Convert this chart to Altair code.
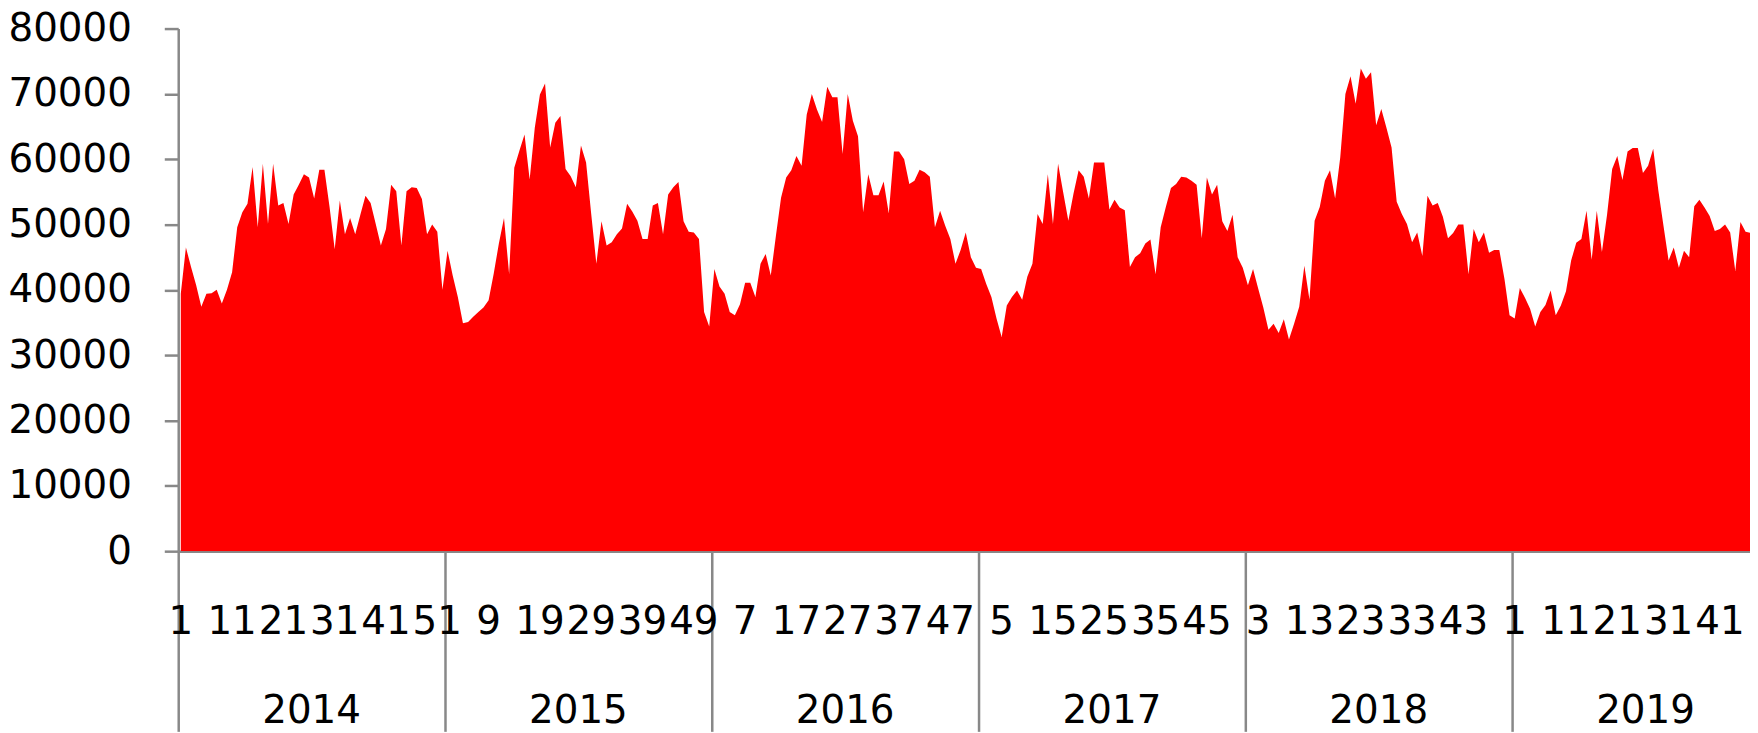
import altair as alt
import pandas as pd

years = [2014, 2015, 2016, 2017, 2018, 2019]

v2014 = [39400, 46500, 43500, 40700, 37400, 39400, 39500, 40000, 37900, 40000,
         42700, 49600, 51900, 53200, 58800, 49600, 59300, 50100, 59300, 52900,
         53300, 50100, 54600, 56100, 57700, 57200, 54000, 58400, 58400, 52700,
         46200, 53700, 48500, 51000, 48500, 51500, 54400, 53300, 50100, 46800,
         49300, 56100, 55100, 46800, 55100, 55700, 55600, 53900, 48500, 50000,
         48900, 40000]
v2015 = [46000, 42200, 38900, 34900, 35100, 35900, 36600, 37300, 38400, 42500,
         47100, 51000, 42400, 58700, 61300, 63800, 56900, 64800, 69900, 71600,
         61800, 65600, 66600, 58500, 57400, 55700, 62100, 59500, 51600, 44000,
         50500, 46800, 47300, 48500, 49400, 53200, 52000, 50600, 47800, 47800,
         52900, 53300, 48500, 54600, 55700, 56500, 50500, 48900, 48800, 47800,
         36600, 34400]
v2016 = [43200, 40500, 39400, 36600, 36100, 37800, 41100, 41100, 38900, 44000,
         45500, 42200, 48300, 54100, 57200, 58300, 60500, 59000, 66800, 70000,
         67600, 65700, 71100, 69500, 69500, 60800, 70000, 65900, 63500, 51900,
         57700, 54500, 54500, 56600, 51700, 61200, 61200, 60000, 56200, 56700,
         58400, 58000, 57300, 49600, 52100, 49800, 47800, 44000, 46100, 48800,
         45000, 43400]
v2017 = [43200, 40900, 38900, 35600, 32800, 37600, 38900, 39900, 38500, 42000,
         44000, 51600, 50100, 57700, 50100, 59300, 54900, 50600, 54700, 58300,
         57300, 54000, 59500, 59500, 59500, 52300, 53800, 52600, 52200, 43500,
         45000, 45600, 47100, 47700, 42400, 49600, 52700, 55600, 56200, 57300,
         57200, 56700, 56100, 47900, 57200, 54600, 56100, 50500, 49000, 51500,
         45000, 43400]
v2018 = [40700, 43200, 40200, 37300, 33900, 34800, 33400, 35500, 32400, 34800,
         37400, 43700, 38500, 50600, 52700, 56700, 58300, 54000, 60300, 70000,
         72700, 68500, 73900, 72300, 73300, 65200, 67700, 64800, 61800, 53500,
         51600, 50100, 47300, 48800, 45200, 54400, 52900, 53300, 51200, 47900,
         48700, 50000, 50000, 42400, 49300, 47300, 48800, 45700, 46100, 46100,
         41700, 36100]
v2019 = [35600, 40300, 38800, 37100, 34400, 36600, 37700, 39900, 36100, 37600,
         39800, 44500, 47200, 47800, 52100, 44600, 52100, 45800, 51500, 58500,
         60500, 56800, 61200, 61700, 61700, 57900, 59000, 61600, 55200, 49800,
         44500, 46500, 43400, 46000, 45000, 52800, 53800, 52600, 51300, 49000,
         49300, 50000, 48800, 42900, 50400, 48900, 48700]

series = [v2014, v2015, v2016, v2017, v2018, v2019]
WEEKS = 52

rows = []
for yi, vals in enumerate(series):
    for wi, v in enumerate(vals):
        rows.append({"g": yi * WEEKS + wi + 1, "v": v})
df = pd.DataFrame(rows)

label_pos = list(range(1, 302, 10))
week_df = pd.DataFrame({"g": label_pos,
                        "t": [str((g - 1) % WEEKS + 1) for g in label_pos]})
year_df = pd.DataFrame({"g": [yi * WEEKS + 26.5 for yi in range(len(years))],
                        "t": [str(y) for y in years]})
boundaries = [yi * WEEKS + 0.5 for yi in range(len(years))]

STEP = 5.154
W = 1579
H = 525
XMAX = 0.5 + W / STEP
GRAY = "#888888"
FONT = "DejaVu Sans"
FS = 39

xscale = alt.Scale(domain=[0.5, XMAX], nice=False, zero=False)

area = alt.Chart(df).mark_area(color="#FF0000", opacity=1, clip=True).encode(
    x=alt.X("g:Q", scale=xscale,
            axis=alt.Axis(values=boundaries, labels=False, ticks=True,
                          tickSize=181, tickColor=GRAY, tickWidth=2.5,
                          domainColor=GRAY, domainWidth=2.5, grid=False,
                          title=None)),
    y=alt.Y("v:Q", scale=alt.Scale(domain=[0, 80000], nice=False),
            axis=alt.Axis(values=list(range(0, 80001, 10000)), format="d",
                          labelFont=FONT, labelFontSize=FS, labelColor="black",
                          tickSize=14, tickColor=GRAY, tickWidth=2.5,
                          domainColor=GRAY, domainWidth=2.5, labelPadding=33,
                          grid=False, title=None)),
)

weeks_text = alt.Chart(week_df).mark_text(
    font=FONT, fontSize=FS, color="black", align="center", baseline="middle"
).encode(x=alt.X("g:Q", scale=xscale), y=alt.value(596), text="t:N")

years_text = alt.Chart(year_df).mark_text(
    font=FONT, fontSize=FS, color="black", align="center", baseline="middle"
).encode(x=alt.X("g:Q", scale=xscale), y=alt.value(686), text="t:N")

chart = alt.layer(area, weeks_text, years_text).properties(
    width=W, height=H,
    autosize=alt.AutoSizeParams(type="none"),
    padding={"left": 171, "top": 19, "right": 0, "bottom": 181},
).configure_view(stroke=None)

chart.save("out.html", embed_options={"renderer": "svg", "actions": False})
